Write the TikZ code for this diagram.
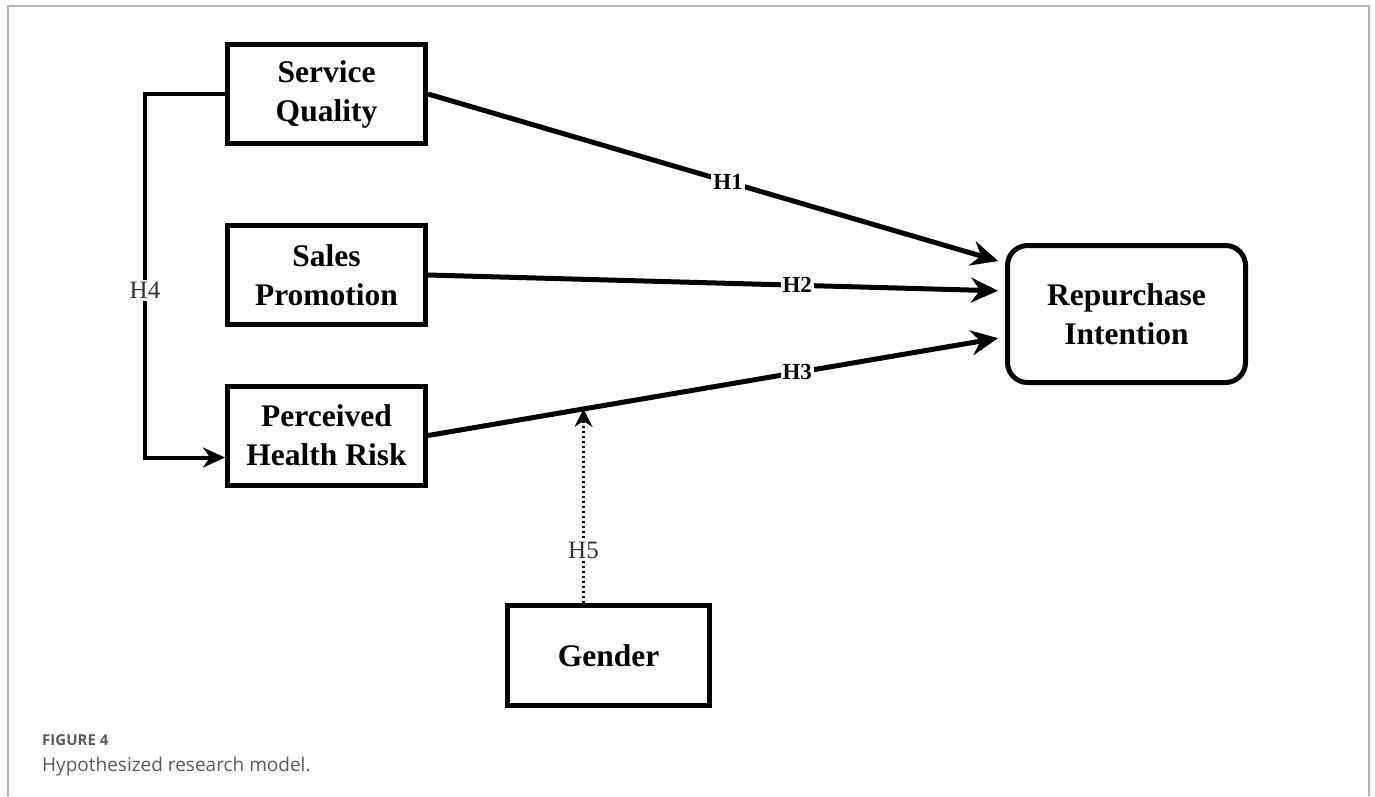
\documentclass[tikz,border=0pt]{standalone}
\usepackage{fontspec}
\setmainfont{Liberation Serif}
\newfontfamily\capfont{Open Sans}
\usetikzlibrary{arrows.meta,calc}
\definecolor{framegray}{HTML}{B4B4B4}
\definecolor{capgray}{HTML}{5A5A5A}
\definecolor{labgray}{HTML}{333333}
\tikzset{
  varbox/.style={draw=black, line width=5pt, fill=white, minimum width=198pt, minimum height=99pt,
    align=center, font=\fontsize{31.5}{39}\selectfont\bfseries, inner sep=0pt},
  roundbox/.style={varbox, rounded corners=20pt, minimum width=238pt, minimum height=137pt},
  mainarrow/.style={line width=5pt, -{Stealth[length=27pt,width=25pt,inset=9pt]}, shorten >=7pt},
  modarrow/.style={line width=4pt, -{Stealth[length=22pt,width=20pt,inset=7pt]}},
  dotarrow/.style={line width=3pt, dash pattern=on 2.5pt off 2.5pt, -{Stealth[length=18pt,width=18pt,inset=6pt]}},
  hlab/.style={fill=white, inner sep=2pt, font=\fontsize{23}{24}\selectfont\bfseries},
  hlabreg/.style={fill=white, inner sep=2pt, text=labgray, font=\fontsize{25}{26}\selectfont},
}
\begin{document}
\begin{tikzpicture}[x=1pt,y=-1pt]
\useasboundingbox (0,0) rectangle (1375,796);
% frame
\draw[framegray, line width=1.5pt] (8,796) -- (8,6) -- (1369,6) -- (1369,796);

% nodes
\node[varbox] (sq) at (326.5,94) {Service\\Quality};
\node[varbox] (sp) at (326.5,275) {Sales\\Promotion};
\node[varbox] (phr) at (326.5,435.5) {Perceived\\Health Risk};
\node[varbox, minimum width=202pt, minimum height=100pt] (gen) at (608.5,655.5) {Gender};
\node[roundbox] (ri) at (1126.5,314) {Repurchase\\Intention};

% main paths
\draw[mainarrow] (sq.east) -- node[hlab, pos=0.52] {H1} ($(ri.west)+(0,-51)$);
\draw[mainarrow] (sp.east) -- node[hlab, pos=0.64] {H2} ($(ri.west)+(0,-23)$);
\draw[mainarrow] (phr.east) -- node[hlab, pos=0.64] {H3} ($(ri.west)+(0,23)$)
   coordinate[pos=0.27] (m);

% H4
\coordinate (c4) at ($(sq.west)+(-80,0)$);
\draw[modarrow] (sq.west) -- (c4) |- node[hlabreg, pos=0.27] {H4} ($(phr.west)+(0,22)$);

% H5
\coordinate (g5) at ($(gen.north)+(-25,0)$);
\draw[dotarrow] (g5) -- node[hlabreg, pos=0.27] {H5} (g5 |- m);

% caption
\node[anchor=base west, inner sep=0pt, text=capgray, font=\capfont\bfseries\fontsize{15}{18}\selectfont] (fig) at (42,745) {FIGURE 4};
\node[anchor=base west, inner sep=0pt, text=capgray, font=\capfont\fontsize{19}{22}\selectfont] (cap) at (42,771) {Hypothesized research model.};
\end{tikzpicture}
\end{document}
